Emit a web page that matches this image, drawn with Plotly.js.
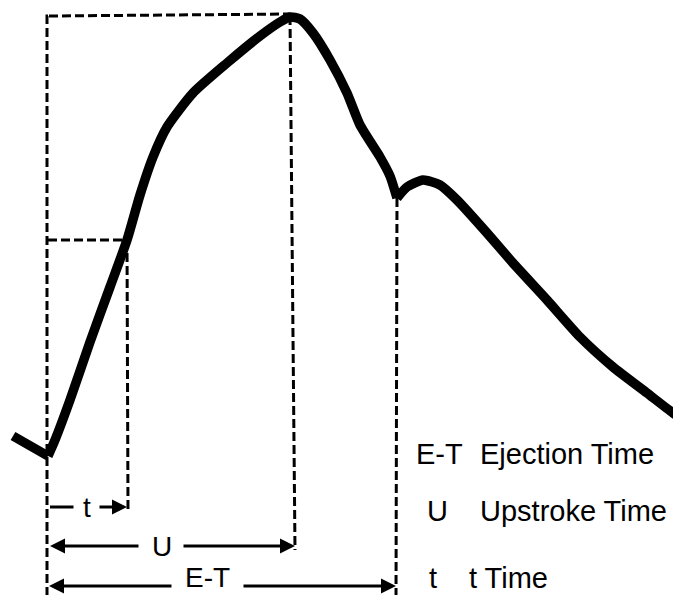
<!DOCTYPE html>
<html>
<head>
<meta charset="utf-8">
<script src="https://cdn.plot.ly/plotly-3.0.1.min.js"></script>
<style>html,body{margin:0;padding:0;background:#fff;}#chart{width:673px;height:595px;}</style>
</head>
<body>
<div id="chart"></div>
<script>
// Arterial pressure pulse (arbitrary time / pressure units)
const time = [13, 30, 48, 55, 70, 90, 110, 127, 140, 153, 167, 193, 227, 260, 280, 290, 300, 313, 330, 347, 360, 380, 390, 397, 407, 423, 440, 457, 487, 513, 547, 580, 613, 647, 673, 690];
const pressure = [159, 149, 139, 155, 195, 253, 308, 355, 400, 438, 468, 502, 532, 559, 573, 578, 576, 562, 535, 502, 470, 438, 419, 397, 408, 415, 410, 395, 362, 332, 295, 258, 228, 202, 182, 171];
// Indices of the marked points on the curve: onset, t-point, peak, dicrotic notch
const onsetIdx = 2, tIdx = 7, peakIdx = 15, notchIdx = 23;
// Interval labels and legend
const intervalLabels = ['t', 'U', 'E-T'];
const legendKeys = ['E-T', 'U', 't'];
const legendNames = ['Ejection Time', 'Upstroke Time', 't Time'];

const onset = time[onsetIdx], tT = time[tIdx], peak = time[peakIdx], notch = time[notchIdx];
const topP = pressure[peakIdx] + 1, tP = pressure[tIdx];

// levels of the interval arrows
const rowT = 88, rowU = 49, rowE = 9;

const dashStyle = {color: '#000', width: 3, dash: '9px,4px'};
function dashed(xs, ys) {
  return {x: xs, y: ys, type: 'scatter', mode: 'lines', line: dashStyle, hoverinfo: 'skip', showlegend: false};
}
function curvePart(a, b, smooth) {
  return {x: time.slice(a, b + 1), y: pressure.slice(a, b + 1), type: 'scatter', mode: 'lines',
    line: {color: '#000', width: 9.5, shape: smooth ? 'spline' : 'linear', smoothing: 0.6}, hoverinfo: 'skip', showlegend: false};
}

const traces = [
  dashed([onset - 1, onset - 1, onset + 1], [rowE - 10, topP, topP]),
  dashed([onset + 1, peak], [topP, topP + 2]),
  dashed([peak, peak + 5], [topP, rowU - 4]),
  dashed([onset, tT], [tP, tP]),
  dashed([tT, tT + 1], [tP, rowT - 4]),
  dashed([notch, notch - 1], [pressure[notchIdx], -5]),
  curvePart(0, onsetIdx, false),
  curvePart(onsetIdx, notchIdx, true),
  curvePart(notchIdx, time.length - 1, true)
];

function arrow(x0, x1, y, head) {
  return {x: x1, y: y, ax: x0, ay: y, axref: 'x', ayref: 'y', xref: 'x', yref: 'y', text: '',
    showarrow: true, arrowhead: head, arrowsize: 1, arrowwidth: 3, arrowcolor: '#000', standoff: 0, startstandoff: 0};
}
const lblFont = {family: 'Liberation Sans, Arial, sans-serif', size: 28, color: '#000'};
const annotations = [
  arrow(75, onset + 2, rowT, 0),
  arrow(98, tT, rowT, 2),
  arrow(140, onset + 2, rowU, 2),
  arrow(182, peak + 5, rowU, 2),
  arrow(173, onset + 1, rowE, 2),
  arrow(242, notch - 1, rowE, 2),
  {x: 87, y: rowT, text: intervalLabels[0], showarrow: false, font: lblFont, xanchor: 'center', yanchor: 'middle'},
  {x: 162, y: rowU, text: intervalLabels[1], showarrow: false, font: lblFont, xanchor: 'center', yanchor: 'middle'},
  {x: 207, y: 0, text: intervalLabels[2], showarrow: false, font: lblFont, xanchor: 'center', yanchor: 'bottom'}
];
const legFont = {family: 'Liberation Sans, Arial, sans-serif', size: 29, color: '#000'};
const legY = [141, 84, 17];
const keyX = [439, 437, 433];
const nameX = [478, 478, 467];
for (let i = 0; i < 3; i++) {
  annotations.push({x: keyX[i], y: legY[i], text: legendKeys[i], showarrow: false, font: legFont, xanchor: 'center', yanchor: 'middle'});
  annotations.push({x: nameX[i], y: legY[i], text: legendNames[i], showarrow: false, font: legFont, xanchor: 'left', yanchor: 'middle'});
}

const layout = {
  width: 673, height: 595,
  margin: {l: 0, r: 0, t: 0, b: 0},
  paper_bgcolor: '#fff', plot_bgcolor: '#fff',
  xaxis: {range: [0, 673], visible: false, fixedrange: true},
  yaxis: {range: [0, 595], visible: false, fixedrange: true},
  annotations: annotations,
  showlegend: false
};
Plotly.newPlot('chart', traces, layout, {displayModeBar: false, staticPlot: true});
</script>
</body>
</html>
